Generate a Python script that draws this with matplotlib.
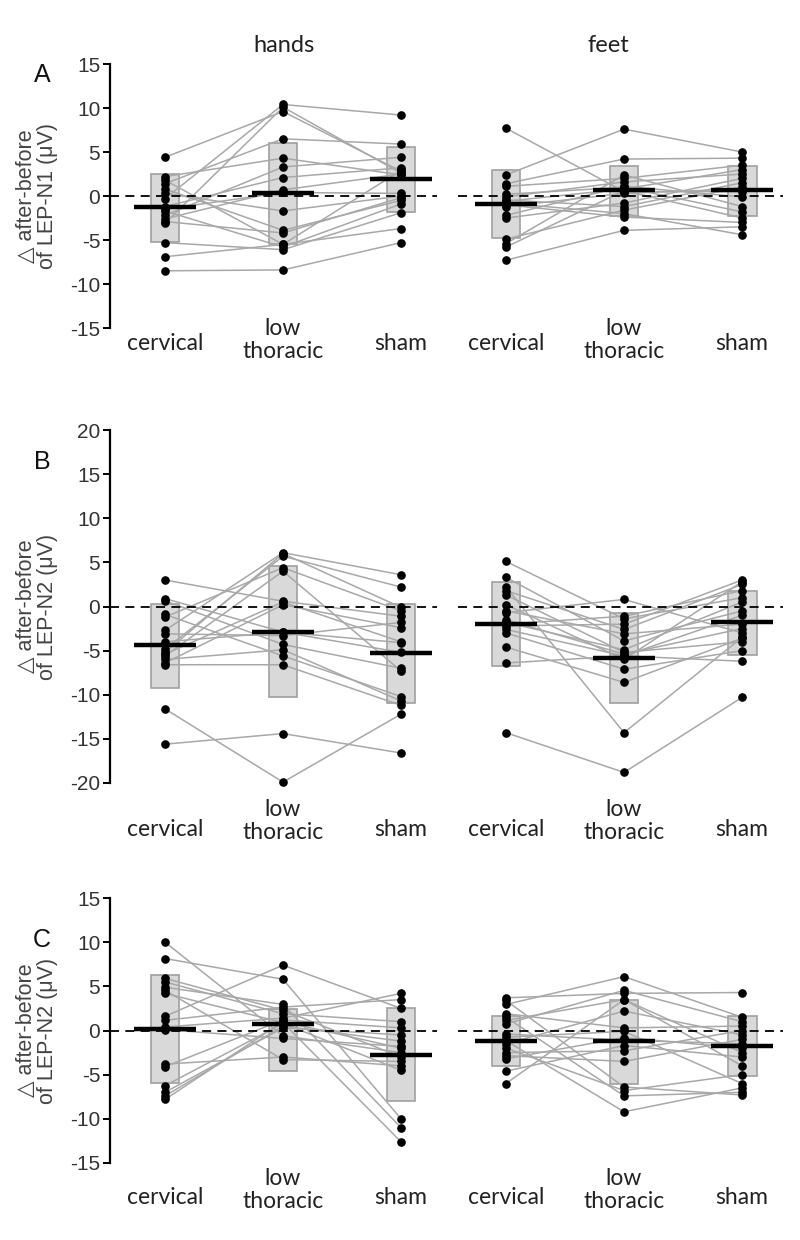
import matplotlib.pyplot as plt
from matplotlib.transforms import blended_transform_factory

groups = ['cervical', 'low\nthoracic', 'sham']

# A: LEP-N1, hands / feet (per subject, order = cervical, low thoracic, sham)
hands_A = [
    [4.4, 2.2, 1.8, 1.4, 0.8, -0.3, -1.2, -1.7, -2.2, -2.6, -3.1, -5.3, -6.9, -8.5, 0.3, -1.5, -2.9],
    [9.6, 4.3, -5.5, 6.5, -3.9, 10.4, 2.1, -5.8, 3.3, 0.7, 10.1, -6.1, -5.5, -8.4, -1.7, 0.4, -4.2],
    [2.8, 2.4, 2.9, 5.9, -0.5, 9.2, 3.2, -0.9, 4.4, 2.5, 2.6, -1.9, -3.7, -5.3, 0.0, 0.3, -0.2],
]
hands_A_mean = [-1.3, 0.3, 1.9]
hands_A_lo = [-5.2, -5.45, -1.85]
hands_A_hi = [2.55, 6.05, 5.6]

feet_A = [
    [7.7, 2.4, 1.4, 1.1, -0.1, -0.45, -2.2, -2.5, -4.9, -5.4, -5.8, -7.3, -0.8, -1.0, -1.2, 0.2, -0.6],
    [0.5, 7.6, 4.2, 2.0, 1.6, -1.2, 1.1, -0.8, -1.6, 2.4, 0.6, -3.9, -2.0, -2.4, 0.3, 1.0, 0.8],
    [0.5, 5.0, 4.3, 3.5, 2.5, 1.5, -0.1, 2.0, 1.0, -1.2, -2.5, -3.5, -4.4, -3.0, 0.8, -1.8, 3.0],
]
feet_A_mean = [-0.9, 0.7, 0.7]
feet_A_lo = [-4.75, -2.25, -2.25]
feet_A_hi = [3.0, 3.4, 3.4]

# B: LEP-N2
hands_B = [
    [3.0, 0.9, 0.65, -0.9, -1.2, -2.7, -3.1, -4.85, -5.2, -5.6, -6.0, -6.4, -6.6, -11.6, -15.6, -4.0, -5.4],
    [0.6, -2.9, -4.3, -5.6, 4.4, 6.1, -3.3, 5.7, 6.0, 4.0, -4.9, 0.2, -6.6, -19.9, -14.4, -2.9, 0.5],
    [-1.1, -4.1, -7.0, -10.2, -0.5, 3.6, -1.8, 2.2, -0.1, -7.3, -10.7, -2.4, -11.2, -12.2, -16.6, -5.2, -4.0],
]
hands_B_mean = [-4.4, -2.85, -5.25]
hands_B_lo = [-9.2, -10.2, -10.9]
hands_B_hi = [0.3, 4.6, 0.3]

feet_B = [
    [5.1, 3.3, 2.2, 1.8, 1.3, -0.5, -0.7, -1.8, -2.2, -2.6, -3.0, -4.6, -6.4, -14.3, -2.0, -1.5, 0.2],
    [-1.4, -3.9, -14.3, -2.6, -5.2, -3.1, 0.8, -4.9, -2.0, -5.6, -7.1, -8.6, -5.6, -18.8, -1.1, -5.4, -6.0],
    [1.0, -0.5, -3.5, 2.5, -4.0, -2.0, -3.0, 0.5, 3.0, -1.0, -5.0, -3.6, -6.2, -10.3, 1.8, -2.5, 2.8],
]
feet_B_mean = [-1.95, -5.8, -1.75]
feet_B_lo = [-6.75, -10.9, -5.45]
feet_B_hi = [2.8, -0.75, 1.8]

# C: LEP-N2
hands_C = [
    [10.0, 8.15, 5.9, 5.5, 4.9, 4.55, 4.2, 1.6, 1.15, 0.4, 0.1, -3.8, -4.1, -6.25, -7.0, -7.4, -7.8],
    [-0.6, 5.8, 2.3, 1.9, 2.95, -3.3, 0.9, 7.4, 2.65, 1.4, -0.9, -3.0, 1.2, 0.8, 0.3, 0.5, 1.0],
    [-2.5, -10.0, -3.0, 1.0, -11.0, -3.5, -12.6, 2.5, 3.5, 4.2, -1.8, -4.0, 0.3, -4.5, -0.5, -1.2, -2.0],
]
hands_C_mean = [0.2, 0.75, -2.75]
hands_C_lo = [-5.9, -4.6, -8.0]
hands_C_hi = [6.3, 2.45, 2.5]

feet_C = [
    [3.7, 3.4, 2.95, 1.9, 1.5, 1.15, 0.75, -0.4, -0.75, -1.15, -1.5, -2.0, -2.5, -2.85, -3.2, -4.6, -6.0],
    [4.2, -6.4, 6.1, 0.3, -7.4, 3.5, 4.55, -1.1, -0.1, -9.2, 2.2, -6.8, -2.3, -3.5, -0.8, -1.7, 3.5],
    [4.3, -7.3, 1.5, 0.5, -7.0, -2.5, 1.0, -1.5, -6.0, -6.5, -0.5, -5.0, 0.0, -1.0, -2.0, -3.0, -4.0],
]
feet_C_mean = [-1.15, -1.2, -1.8]
feet_C_lo = [-4.0, -6.05, -5.2]
feet_C_hi = [1.6, 3.5, 1.6]

W, H = 800, 1240
fig = plt.figure(figsize=(W / 100, H / 100), dpi=100)
plt.rcParams['font.family'] = ['Liberation Sans', 'DejaVu Sans']
plt.rcParams['axes.unicode_minus'] = False


def px_axes(x0, x1, ytop, ybot):
    return fig.add_axes([x0 / W, 1 - ybot / H, (x1 - x0) / W, (ybot - ytop) / H])


def draw_panel(ax, vals, mean, lo, hi):
    x = range(3)
    for i in range(len(vals[0])):
        ax.plot(x, [vals[0][i], vals[1][i], vals[2][i]], color='#a8a8a8',
                lw=1.1, zorder=2)
    ax.bar(x, [h - l for h, l in zip(hi, lo)], bottom=lo, width=0.245,
           color='#d9d9d9', edgecolor='#a0a0a0', lw=1.2, zorder=1)
    ax.axhline(0, color='black', ls=(0, (5, 3.5)), lw=1.3, zorder=3)
    for j in x:
        ax.plot([j] * len(vals[j]), vals[j], 'o', color='black', ms=5.2,
                zorder=4, clip_on=False)
    ax.hlines(mean, [j - 0.26 for j in x], [j + 0.26 for j in x],
              color='black', lw=3.2, zorder=5)


rows = [
    # ytop, ybot, ylim, ylabel, letter, panels, label y (two-line, one-line), letter y
    (64, 328, (-15, 15), 'LEP-N1', 'A', (hands_A, hands_A_mean, hands_A_lo, hands_A_hi),
     (feet_A, feet_A_mean, feet_A_lo, feet_A_hi), (340, 343), 75),
    (430, 783, (-20, 20), 'LEP-N2', 'B', (hands_B, hands_B_mean, hands_B_lo, hands_B_hi),
     (feet_B, feet_B_mean, feet_B_lo, feet_B_hi), (821, 829), 462),
    (898, 1163, (-15, 15), 'LEP-N2', 'C', (hands_C, hands_C_mean, hands_C_lo, hands_C_hi),
     (feet_C, feet_C_mean, feet_C_lo, feet_C_hi), (1190, 1198), 940),
]

for ytop, ybot, ylim, lab, letter, hp, fp, laby, lety in rows:
    axh = px_axes(110, 437, ytop, ybot)
    axf = px_axes(458, 783, ytop, ybot)
    for ax, p, xl in [(axh, hp, (-0.466, 2.305)), (axf, fp, (-0.407, 2.347))]:
        draw_panel(ax, *p)
        ax.set_xlim(xl)
        ax.set_ylim(ylim)
        ax.set_xticks([])
        for s in ['top', 'right', 'bottom']:
            ax.spines[s].set_visible(False)
        tr = blended_transform_factory(ax.transData, fig.transFigure)
        for j, g in enumerate(groups):
            yy = laby[0] if '\n' in g else laby[1]
            ax.text(j, 1 - yy / H, g, transform=tr, ha='center', va='center',
                    fontsize=16.5, family='Lato', color='#222222', linespacing=1.15)
    axf.spines['left'].set_visible(False)
    axf.set_yticks([])
    axh.spines['left'].set_linewidth(1.6)
    axh.set_yticks(range(ylim[0], ylim[1] + 1, 5))
    axh.tick_params(axis='y', direction='out', length=5, width=1.4,
                    labelsize=15, labelcolor='#333333', pad=2)
    fig.text(37 / W, 1 - (ytop + ybot) / 2 / H,
             '\u25b3 after-before\nof ' + lab + ' (\u03bcV)', rotation=90,
             ha='center', va='center', fontsize=15.5, color='#444444',
             linespacing=1.05)
    fig.text(42 / W, 1 - lety / H, letter, ha='center', va='center',
             fontsize=18, color='#111111')

fig.text(284 / W, 1 - 45 / H, 'hands', ha='center', va='center', fontsize=17,
         family='Lato', color='#222222')
fig.text(608 / W, 1 - 45 / H, 'feet', ha='center', va='center', fontsize=17,
         family='Lato', color='#222222')

fig.savefig('out.png', dpi=100)
